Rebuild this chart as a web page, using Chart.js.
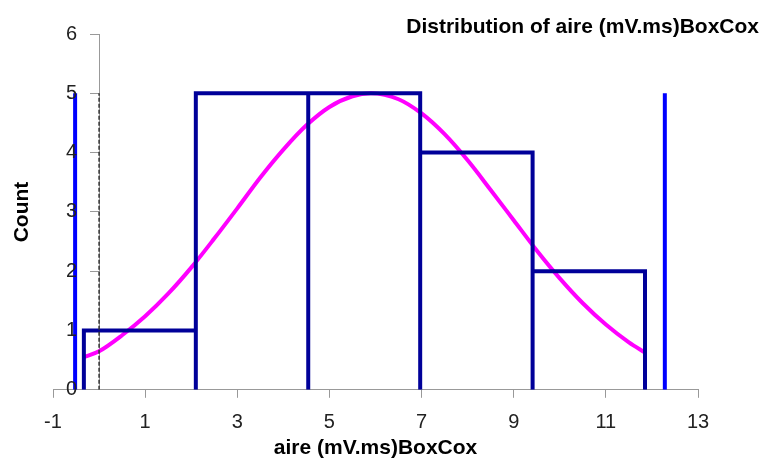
<!DOCTYPE html>
<html>
<head>
<meta charset="utf-8">
<script src="https://cdn.jsdelivr.net/npm/chart.js@4"></script>
<style>
  html, body { margin: 0; padding: 0; background: #fff; }
  #wrap { width: 765px; height: 461px; }
</style>
</head>
<body>
<div id="wrap"><canvas id="histo"></canvas></div>
<script>
// histogram bins (edges) and counts
const binEdges = [-0.33, 2.10, 4.54, 6.97, 9.41, 11.85];
const counts = [1, 5, 5, 4, 2];

// the two blue markers (x position, height)
const markerX = [-0.52, 12.28];
const markerH = [5, 5];

// normal curve
const curveX = [-0.33, 0, 0.5, 1, 1.5, 2, 2.5, 3, 3.5, 4, 4.5, 5, 5.5, 5.9, 6.5, 7, 7.5, 8, 8.5, 9, 9.5, 10, 10.5, 11, 11.5, 11.85];
const curveY = [0.55, 0.65, 0.92, 1.24, 1.62, 2.06, 2.55, 3.06, 3.58, 4.05, 4.46, 4.77, 4.95, 5.0, 4.9, 4.66, 4.31, 3.87, 3.37, 2.86, 2.35, 1.88, 1.46, 1.10, 0.80, 0.63];

// dashed reference line at x = 0
const zeroLineX = [0, 0];
const zeroLineY = [0, 5];

const xTicks = [-1, 1, 3, 5, 7, 9, 11, 13];
const yTicks = [0, 1, 2, 3, 4, 5, 6];

const FONT = "'Liberation Sans', Arial, sans-serif";

// build bar outlines: up, across, down, then a gap
let histPts = [];
for (let i = 0; i < counts.length; i++) {
    histPts.push({ x: binEdges[i], y: 0 });
    histPts.push({ x: binEdges[i], y: counts[i] });
    histPts.push({ x: binEdges[i + 1], y: counts[i] });
    histPts.push({ x: binEdges[i + 1], y: 0 });
    histPts.push({ x: null, y: null });
}

let markerPts = [];
markerX.forEach((x, i) => {
    markerPts.push({ x: x, y: 0 });
    markerPts.push({ x: x, y: markerH[i] });
    markerPts.push({ x: null, y: null });
});

const curvePts = curveX.map((x, i) => ({ x: x, y: curveY[i] }));
const zeroPts = zeroLineX.map((x, i) => ({ x: x, y: zeroLineY[i] }));

// chart title, y title and y tick labels drawn by hand
// (the y axis sits at x = 0, Chart.js puts its labels right on the line)
const textPlugin = {
    id: 'extraText',
    afterDraw(chart) {
        const ctx = chart.ctx;
        const ys = chart.scales.y;
        const xs = chart.scales.x;
        ctx.save();

        ctx.fillStyle = '#222';
        ctx.font = '20px ' + FONT;
        ctx.textAlign = 'right';
        ctx.textBaseline = 'middle';
        const labelRight = xs.getPixelForValue(0) - 22;
        yTicks.forEach(v => {
            ctx.fillText(String(v), labelRight, ys.getPixelForValue(v));
        });

        ctx.fillStyle = '#000';
        ctx.font = 'bold 21px ' + FONT;
        ctx.fillText('Distribution of aire (mV.ms)BoxCox', 759, 27);

        ctx.translate(22, 212);
        ctx.rotate(-Math.PI / 2);
        ctx.textAlign = 'center';
        ctx.fillText('Count', 0, 0);
        ctx.restore();
    }
};

new Chart(document.getElementById('histo'), {
    type: 'scatter',
    data: {
        datasets: [
            {
                label: 'zero',
                data: zeroPts,
                showLine: true,
                borderColor: '#333',
                borderWidth: 1.5,
                borderDash: [4, 2],
                pointRadius: 0
            },
            {
                label: 'markers',
                data: markerPts,
                showLine: true,
                spanGaps: false,
                borderColor: '#0000FF',
                borderWidth: 4,
                pointRadius: 0
            },
            {
                label: 'hist',
                data: histPts,
                showLine: true,
                spanGaps: false,
                borderColor: '#000099',
                borderWidth: 4,
                borderJoinStyle: 'miter',
                pointRadius: 0
            },
            {
                label: 'normal',
                data: curvePts,
                showLine: true,
                borderColor: '#FF00FF',
                borderWidth: 4,
                tension: 0.4,
                cubicInterpolationMode: 'monotone',
                pointRadius: 0
            }
        ]
    },
    options: {
        responsive: true,
        maintainAspectRatio: false,
        animation: false,
        layout: { padding: { left: 53, right: 67, top: 34, bottom: 0 } },
        plugins: { legend: { display: false }, tooltip: { enabled: false }, title: { display: false } },
        scales: {
            x: {
                type: 'linear',
                min: -1,
                max: 13,
                afterBuildTicks: (s) => { s.ticks = xTicks.map(v => ({ value: v })); },
                grid: { drawOnChartArea: false, drawTicks: true, tickLength: 8, color: '#999' },
                border: { color: '#999', width: 1 },
                ticks: { color: '#222', padding: 13, font: { family: FONT, size: 20 }, maxRotation: 0 },
                title: {
                    display: true,
                    text: 'aire (mV.ms)BoxCox',
                    color: '#000',
                    font: { family: FONT, size: 21, weight: 'bold' },
                    padding: { top: -12, bottom: 0 }
                }
            },
            y: {
                type: 'linear',
                position: { x: 0 },
                min: 0,
                max: 6,
                afterBuildTicks: (s) => { s.ticks = yTicks.map(v => ({ value: v })); },
                ticks: { display: false },
                grid: { drawOnChartArea: false, drawTicks: true, tickLength: 9, color: '#999' },
                border: { color: '#999', width: 1 }
            }
        }
    },
    plugins: [textPlugin]
});
</script>
</body>
</html>
